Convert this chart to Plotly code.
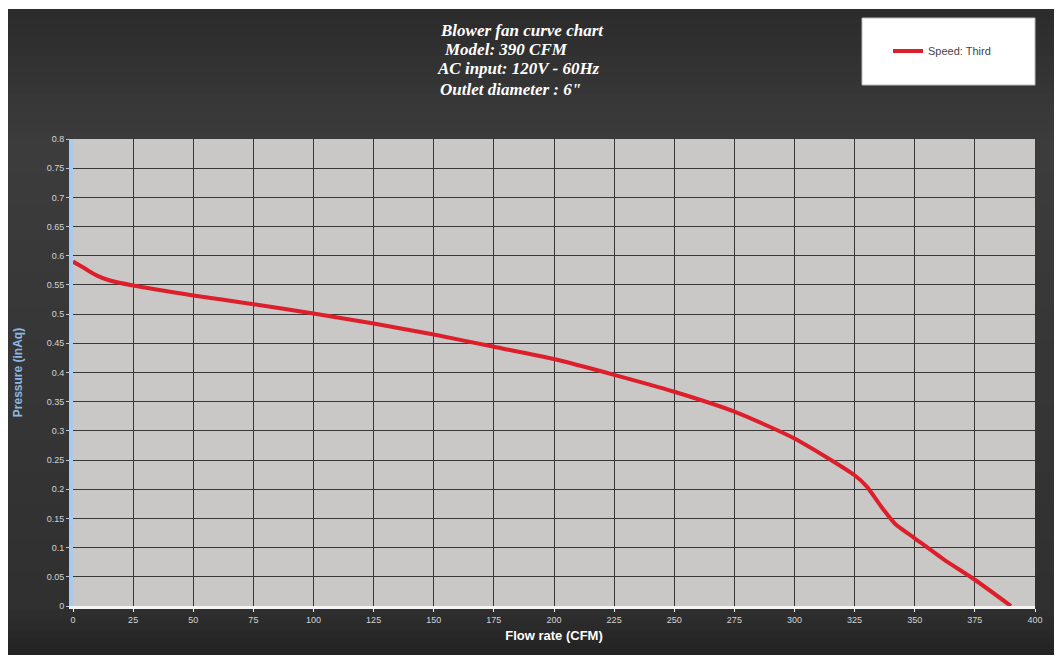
import plotly.graph_objects as go

flow_cfm = [0, 5, 10, 15, 25, 50, 75, 100, 125, 150, 175, 200, 225, 250, 275,
            300, 325, 330, 337, 342, 350, 362, 375, 390]
pressure_inaq = [0.59, 0.578, 0.566, 0.558, 0.549, 0.532, 0.517, 0.501, 0.484,
                 0.465, 0.444, 0.423, 0.396, 0.367, 0.333, 0.287, 0.224, 0.205,
                 0.165, 0.14, 0.116, 0.08, 0.045, 0.0]
series_name = "Speed: Third"
title_lines = ["Blower fan curve chart", "Model: 390 CFM",
               "AC input: 120V - 60Hz", "Outlet diameter : 6\""]

OFF = 8  # page body margin
W, H = 1062 - OFF, 659 - OFF
# screen-space plot area
SX0, SX1, SY0, SY1 = 73, 1035, 139, 606
L, R = SX0 - OFF, W - (SX1 - OFF)
T, B = SY0 - OFF, H - (SY1 - OFF)
pw, ph = W - L - R, H - T - B


def px(xs):
    return (xs - OFF - L) / pw


def py(ys):
    return (H - B - (ys - OFF)) / ph


fig = go.Figure()
fig.add_trace(go.Scatter(
    x=flow_cfm, y=pressure_inaq, mode="lines", name=series_name,
    line=dict(color="#dd1f2b", width=4, shape="spline", smoothing=0.6),
    showlegend=True,
))


def lerp(c0, c1, t):
    return tuple(round(a + (b - a) * t) for a, b in zip(c0, c1))


shapes = []
# gradient dark panel, stacked rects (each to panel bottom) so no seams
bands = [((9, 140), (0x2b, 0x2b, 0x2b), (0x3c, 0x3c, 0x3c)),
         ((140, 606), (0x3c, 0x3c, 0x3c), (0x30, 0x30, 0x30)),
         ((606, 655), (0x30, 0x30, 0x30), (0x22, 0x22, 0x22))]
for (ya, yb), c0, c1 in bands:
    n = 14
    for i in range(n):
        y0 = ya + (yb - ya) * i / n
        c = lerp(c0, c1, (i + 0.5) / n)
        shapes.append(dict(
            type="rect", xref="paper", yref="paper", layer="below",
            x0=px(5), x1=px(1056), y0=py(655), y1=py(y0),
            fillcolor="rgb(%d,%d,%d)" % c, line=dict(width=0)))
shapes += [
    dict(type="rect", xref="paper", yref="paper", layer="below",
         x0=0, x1=1, y0=0, y1=1,
         fillcolor="#c9c8c6", line=dict(width=0)),
    dict(type="rect", xref="paper", yref="paper", layer="above",
         x0=px(862), x1=px(1035), y0=py(85), y1=py(18),
         fillcolor="white", line=dict(color="#bbbbbb", width=1)),
]

title_pos = [(438, 30), (442, 49.5), (435, 69), (438, 89)]
for txt, (xs, ys) in zip(title_lines, title_pos):
    fig.add_annotation(
        xref="paper", yref="paper", x=px(xs), y=py(ys),
        xanchor="left", yanchor="middle", align="left", showarrow=False,
        text=f"<b><i>{txt}</i></b>",
        font=dict(family="Liberation Serif", size=17, color="white"),
    )

fig.update_layout(
    width=W, height=H,
    margin=dict(l=L, r=R, t=T, b=B, pad=0, autoexpand=False),
    paper_bgcolor="white",
    plot_bgcolor="rgba(0,0,0,0)",
    shapes=shapes,
    font=dict(family="Liberation Sans", size=9, color="#d4d4d4"),
    legend=dict(
        x=px(888), y=py(51), xanchor="left", yanchor="middle",
        bgcolor="rgba(0,0,0,0)", borderwidth=0,
        font=dict(family="Liberation Sans", size=11, color="#444444"),
        itemwidth=30,
    ),
    xaxis=dict(
        range=[0, 400], dtick=25, tick0=0, automargin=False,
        showgrid=True, gridcolor="#383838", gridwidth=1,
        zeroline=False,
        showline=True, linecolor="#f4f4f4", linewidth=3,
        ticks="outside", ticklen=3, tickcolor="#f4f4f4",
        tickfont=dict(size=9, color="#d4d4d4", family="Liberation Sans"),
        title=dict(text="<b>Flow rate (CFM)</b>", standoff=8,
                   font=dict(size=13, color="white", family="Liberation Sans")),
    ),
    yaxis=dict(
        range=[0, 0.8], dtick=0.05, tick0=0, automargin=False,
        showgrid=True, gridcolor="#383838", gridwidth=1,
        zeroline=False,
        showline=True, linecolor="#a9c9ef", linewidth=4,
        ticks="outside", ticklen=3, tickcolor="#a9c9ef",
        tickfont=dict(size=9, color="#d4d4d4", family="Liberation Sans"),
        title=dict(text="<b>Pressure (inAq)</b>", standoff=22,
                   font=dict(size=12, color="#8fb6e2", family="Liberation Sans")),
    ),
)

fig.write_html("out.html")
